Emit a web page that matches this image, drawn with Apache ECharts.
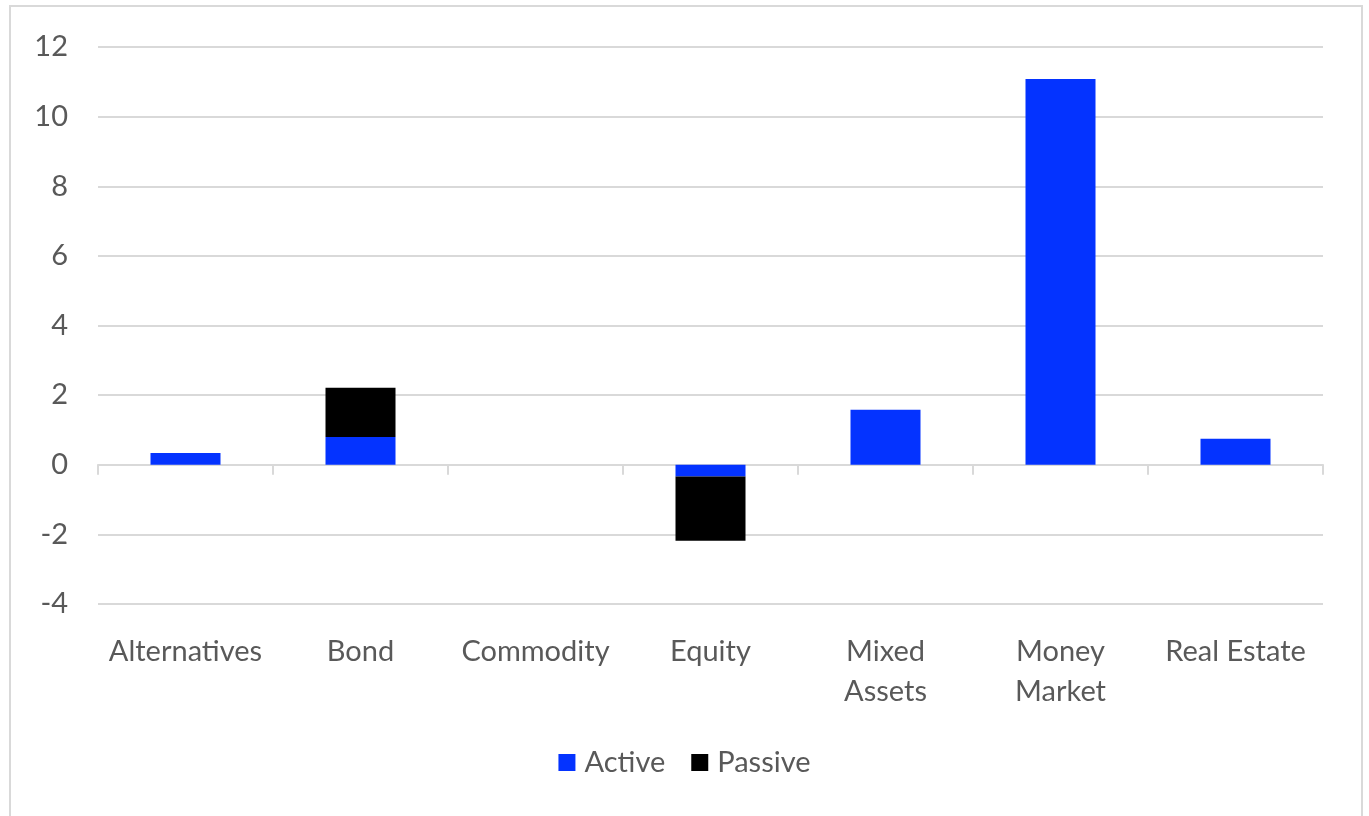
<!DOCTYPE html>
<html>
<head>
<meta charset="utf-8">
<script src="https://cdn.jsdelivr.net/npm/echarts@6/dist/echarts.min.js"></script>
<style>
  html, body { margin: 0; padding: 0; background: #fff; }
  #chart { width: 1369px; height: 816px; }
</style>
</head>
<body>
<div id="chart"></div>
<script>
const categories = ['Alternatives', 'Bond', 'Commodity', 'Equity', 'Mixed Assets', 'Money Market', 'Real Estate'];
// tick labels as they wrap in the picture
const tickLabels = ['Alternatives', 'Bond', 'Commodity', 'Equity', 'Mixed\nAssets', 'Money\nMarket', 'Real Estate'];
const active = [0.34, 0.8, 0, -0.34, 1.58, 11.08, 0.75];
const passive = [0, 1.41, 0, -1.84, 0, 0, 0];

const textColor = '#595959';
const lineColor = '#d9d9d9';
const font = 'Lato, "Open Sans", sans-serif';

const chart = echarts.init(document.getElementById('chart'));

chart.setOption({
  animation: false,
  textStyle: { fontFamily: font },
  graphic: [{
    type: 'rect',
    shape: { x: 10, y: 6, width: 1352, height: 840 },
    style: { fill: 'none', stroke: lineColor, lineWidth: 2 },
    silent: true
  }],
  legend: {
    data: ['Active', 'Passive'],
    bottom: 34,
    left: 'center',
    itemWidth: 17,
    itemHeight: 17,
    itemGap: 26,
    icon: 'rect',
    textStyle: { color: textColor, fontSize: 29, fontFamily: font, padding: [0, 0, 0, 4] }
  },
  grid: { left: 98, right: 46, top: 47, bottom: 212 },
  xAxis: [{
    type: 'category',
    data: categories,
    axisLine: { onZero: true, lineStyle: { color: lineColor, width: 2 } },
    axisTick: { show: true, length: 10, lineStyle: { color: lineColor, width: 2 } },
    axisLabel: { show: false }
  }, {
    type: 'category',
    data: tickLabels,
    position: 'bottom',
    axisLine: { show: false, onZero: false },
    axisTick: { show: false },
    axisLabel: { color: textColor, fontSize: 29, fontFamily: font, margin: 28, lineHeight: 40, interval: 0 }
  }],
  yAxis: {
    type: 'value',
    min: -4,
    max: 12,
    interval: 2,
    axisLine: { show: false },
    axisTick: { show: false },
    axisLabel: { color: textColor, fontSize: 29, fontFamily: font, margin: 30 },
    splitLine: { lineStyle: { color: lineColor, width: 2 } }
  },
  series: [{
    name: 'Active',
    type: 'bar',
    stack: 'flows',
    xAxisIndex: 0,
    barWidth: '40%',
    itemStyle: { color: '#0433ff' },
    data: active
  }, {
    name: 'Passive',
    type: 'bar',
    stack: 'flows',
    xAxisIndex: 0,
    barWidth: '40%',
    itemStyle: { color: '#000000' },
    data: passive
  }]
});
</script>
</body>
</html>
